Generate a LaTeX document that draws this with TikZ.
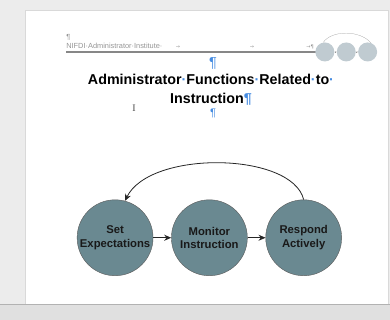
\documentclass[tikz,border=0pt]{standalone}
\usepackage{fontspec}
\setmainfont{Liberation Sans}
\newfontfamily\symfont{DejaVu Sans}
\newfontfamily\beamfont{Liberation Serif}
\usetikzlibrary{arrows.meta,positioning}
\definecolor{circlefill}{RGB}{106,137,145}
\definecolor{markblue}{RGB}{70,140,225}
\definecolor{headgray}{RGB}{150,150,150}
\definecolor{minifill}{RGB}{192,203,209}
\definecolor{deskgray}{RGB}{236,236,236}
\newcommand{\wdot}{\textcolor{markblue}{·}}
\newcommand{\hdot}{·}

\begin{document}
\begin{tikzpicture}[x=1pt, y=-1pt,
  stagecircle/.style={circle, draw=black!65, fill=circlefill, minimum size=76pt, inner sep=0pt,
    align=center, text=black!90, font=\fontsize{11.3}{13.5}\selectfont\bfseries},
  minicircle/.style={circle, fill=minifill, minimum size=19pt, inner sep=0pt},
  flow/.style={-{Stealth[length=7pt,width=6pt]}, black!85, thick},
  headtext/.style={text=headgray, inner sep=0pt, font=\fontsize{7.4}{8}\selectfont}]

% window and page
\fill[deskgray] (0,0) rectangle (390,320);
\fill[white] (25,10) rectangle (388,305);
\draw[black!15] (25,10) rectangle (388,305);
\fill[black!12] (0,305) rectangle (390,320);
\draw[black!30] (0,305) -- (390,305);

% header
\node[headtext, anchor=base west] (headmark) at (66,40) {¶};
\node[headtext, anchor=base west] (header) at (66,49) {NIFDI\hdot Administrator\hdot Institute\hdot};
\node[headtext, font=\symfont\fontsize{5}{6}\selectfont] (tabA) at (178,47) {→};
\node[headtext, font=\symfont\fontsize{5}{6}\selectfont] (tabB) at (252,47) {→};
\node[headtext, font=\symfont\fontsize{5}{6}\selectfont, anchor=base east] (tabC) at (314,49) {→¶};
\draw[headgray!90!black, line width=2pt] (66,52) -- (318,52);

% header logo
\node[minicircle] (logoA) at (325,52) {};
\node[minicircle, right=2pt of logoA] (logoB) {};
\node[minicircle, right=2pt of logoB] (logoC) {};
\draw[headgray, very thin] (logoA.100) .. controls (332,30) and (360,30) .. (logoC.70);
\draw[headgray, very thin, -{Stealth[length=1.5pt]}] (logoA) -- (logoB);
\draw[headgray, very thin, -{Stealth[length=1.5pt]}] (logoB) -- (logoC);

% title
\node[text=markblue, font=\fontsize{14.5}{18}\selectfont] (marktop) at (213,64) {¶};
\node[align=center, font=\fontsize{14.3}{19}\selectfont\bfseries] (title) at (211,90)
  {Administrator\wdot Functions\wdot Related\wdot to\wdot\\Instruction\textcolor{markblue}{¶}};
\node[text=markblue, font=\fontsize{11}{13}\selectfont] (markbot) at (213,114) {¶};
\node[text=black!70, font=\beamfont\fontsize{10}{10}\selectfont] (beam) at (134,108) {I};

% cycle
\node[stagecircle] (set) at (115,238) {Set\\Expectations};
\node[stagecircle, right=18pt of set] (monitor) {Monitor\\Instruction};
\node[stagecircle, right=18pt of monitor] (respond) {Respond\\Actively};

\draw[flow] (set) -- (monitor);
\draw[flow] (monitor) -- (respond);
\draw[flow] (respond.north) .. controls (292,152) and (150,150) .. (set.75);
\end{tikzpicture}
\end{document}
